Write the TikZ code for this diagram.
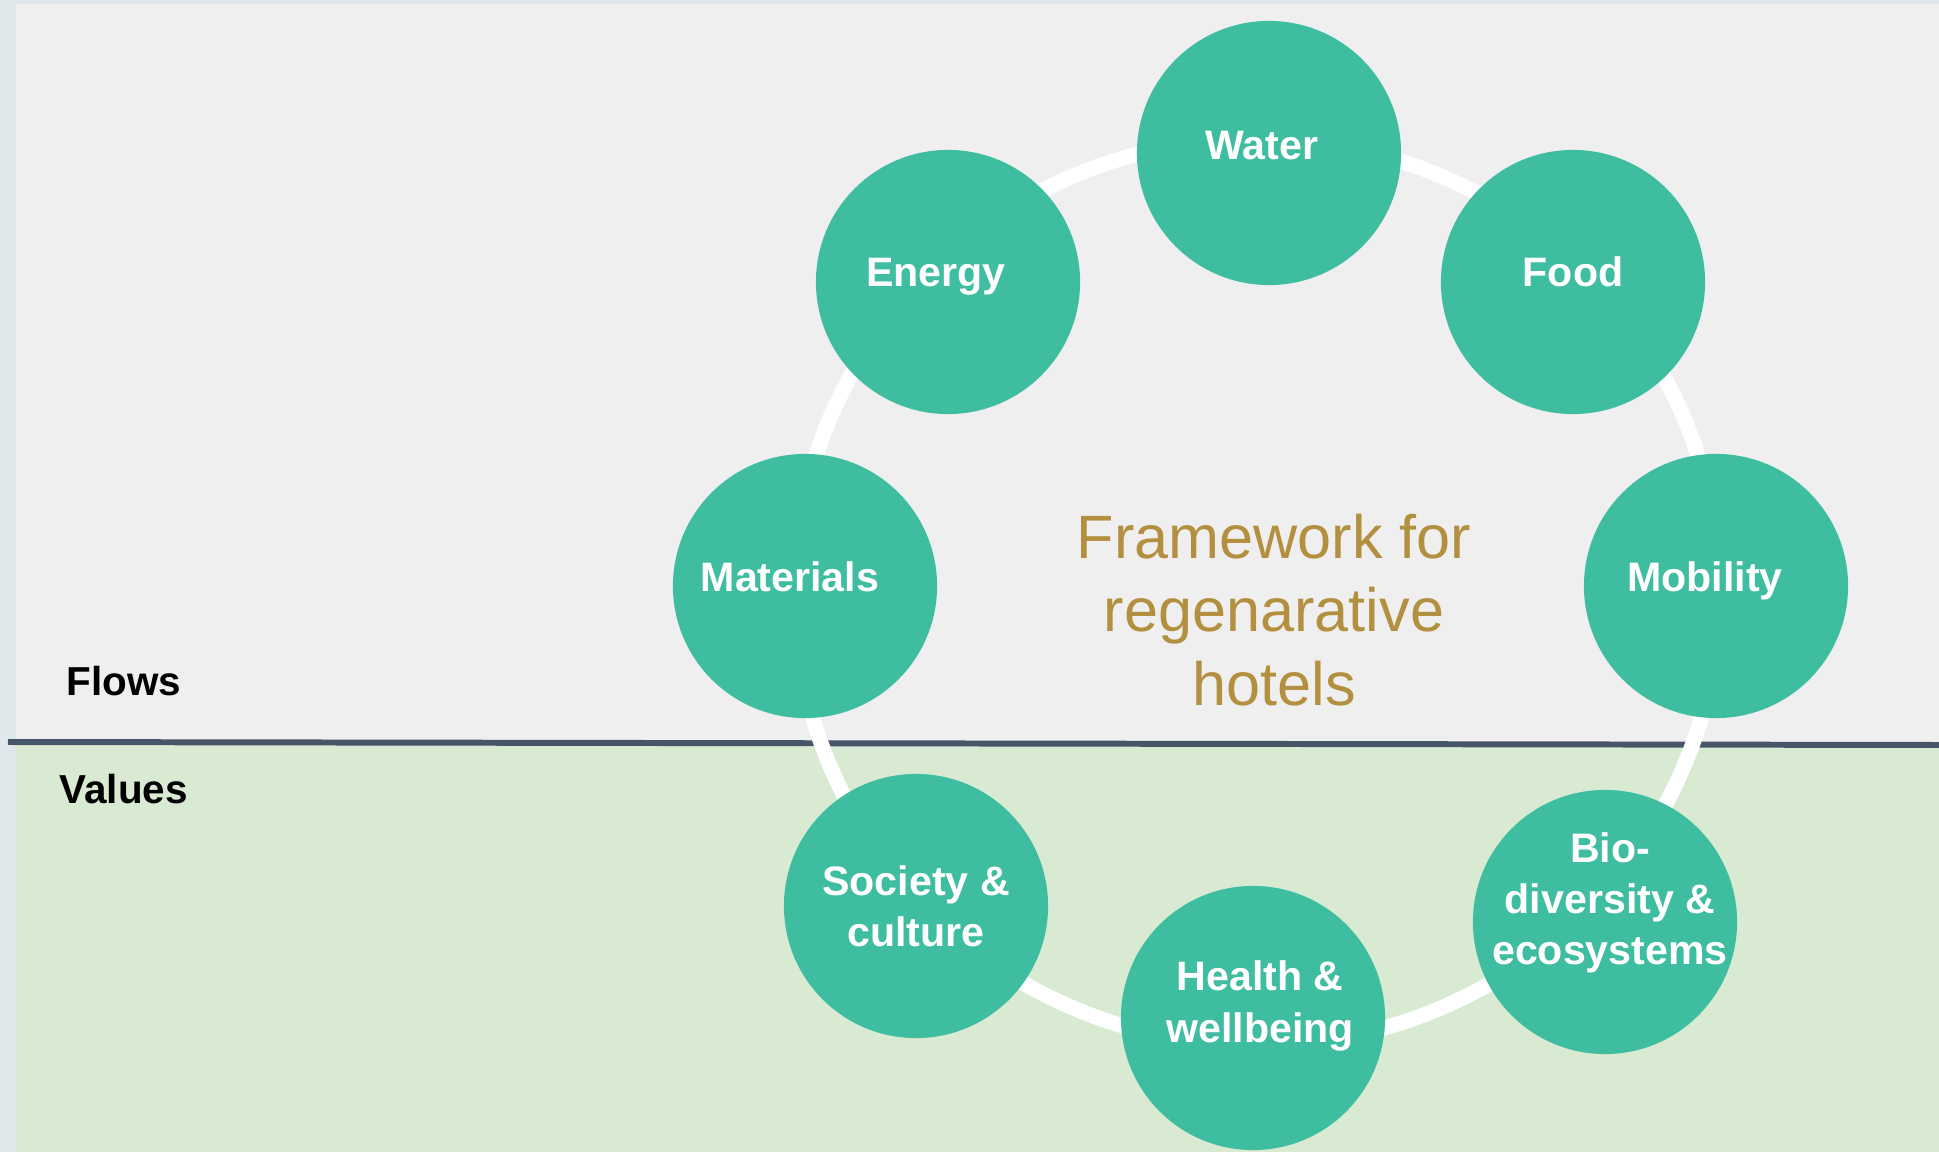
\documentclass[tikz,border=0pt]{standalone}
\usepackage{fontspec}
\setmainfont{Liberation Sans}
\definecolor{edgebg}{HTML}{DFE9EB}
\definecolor{flowbg}{HTML}{EFEFEF}
\definecolor{valbg}{HTML}{D9EAD3}
\definecolor{divline}{HTML}{475569}
\definecolor{tealc}{HTML}{3FBDA0}
\definecolor{goldc}{HTML}{B38F40}
\begin{document}
\begin{tikzpicture}[x=0.01cm,y=-0.01cm,
  topic/.style={circle,fill=tealc,minimum size=2.64cm,inner sep=0pt},
  topictext/.style={text=white,inner sep=0pt,
    font=\fontsize{11.7}{14.6}\selectfont\bfseries,align=center},
  sidelabel/.style={anchor=base west,inner sep=0pt,font=\fontsize{11.5}{14}\selectfont\bfseries,text=black}]
\useasboundingbox (0,0) rectangle (1939,1152);
\fill[edgebg] (0,0) rectangle (1939,1152);
\fill[flowbg] (16,4) rectangle (1939,744);
\fill[valbg] (16,744) rectangle (1939,1152);
\draw[divline,line width=1.7pt] (8,742) -- (1939,745);
\draw[white,line width=4.3pt] (1257,592) ellipse [x radius=4.62cm,y radius=4.53cm];
\node[topic] (water) at (1269,153) {};
\node[topic] (energy) at (948,282) {};
\node[topic] (food) at (1573,282) {};
\node[topic] (materials) at (805,586) {};
\node[topic] (mobility) at (1716,586) {};
\node[topic] (society) at (916,906) {};
\node[topic] (health) at (1253,1018) {};
\node[topic] (bio) at (1605,922) {};
\node[topictext] (waterT) at ([shift={(-7,-7)}]water.center) {Water};
\node[topictext] (energyT) at ([shift={(-12,-5)}]energy.center) {Energy};
\node[topictext] (foodT) at ([shift={(0,-10)}]food.center) {Food};
\node[topictext] (materialsT) at ([shift={(-15,-9)}]materials.center) {Materials};
\node[topictext] (mobilityT) at ([shift={(-11,-5)}]mobility.center) {Mobility};
\node[topictext] (societyT) at ([shift={(0,0)}]society.center) {Society \&\\culture};
\node[topictext] (healthT) at ([shift={(7,-12)}]health.center) {Health \&\\wellbeing};
\node[topictext] (bioT) at ([shift={(5,-19)}]bio.center) {Bio-\\diversity \&\\ecosystems};
\node[text=goldc,font=\fontsize{17.4}{20.9}\selectfont,align=center] (title) at (1274,610)
  {Framework for\\regenarative\\hotels};
\node[sidelabel] (flows) at (66,695) {Flows};
\node[sidelabel] (values) at (59,803) {Values};
\end{tikzpicture}
\end{document}
